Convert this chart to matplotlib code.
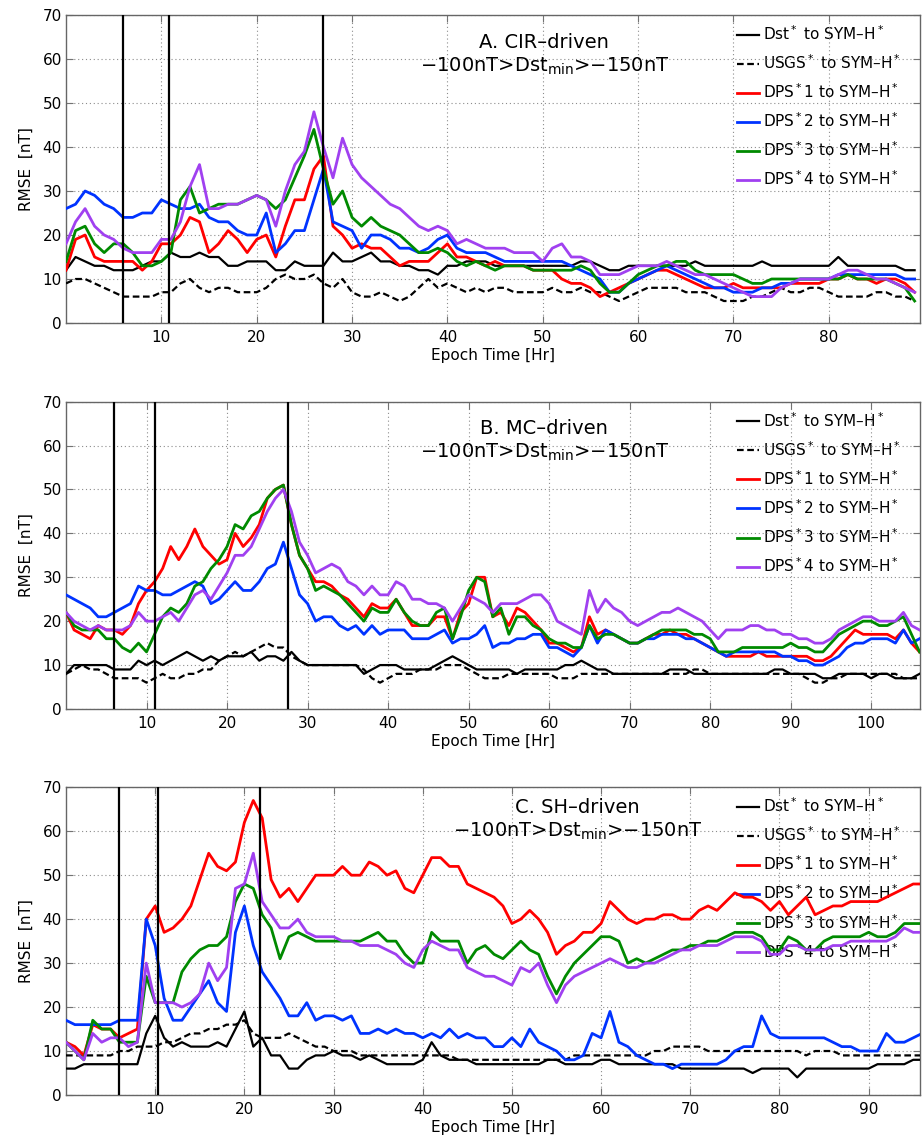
import numpy as np
import matplotlib
matplotlib.use("Agg")
import matplotlib.pyplot as plt

plt.rcParams['font.family'] = ['DejaVu Sans']
plt.rcParams['mathtext.fontset'] = 'dejavusans'

# ---- panel A: CIR-driven storms (hourly RMSE, nT) ----
a_dst = [12, 15, 14, 13, 13, 12, 12, 12, 13, 14,
         14, 16, 15, 15, 16, 15, 15, 13, 13, 14,
         14, 14, 12, 12, 14, 13, 13, 13, 16, 14,
         14, 15, 16, 14, 14, 13, 13, 12, 12, 11,
         13, 13, 14, 14, 14, 13, 13, 13, 13, 13,
         13, 13, 13, 13, 14, 14, 13, 12, 12, 13,
         13, 13, 13, 13, 13, 13, 14, 13, 13, 13,
         13, 13, 13, 14, 13, 13, 13, 13, 13, 13,
         13, 15, 13, 13, 13, 13, 13, 13, 12, 12]
a_usgs = [9, 10, 10, 9, 8, 7, 6, 6, 6, 6,
          7, 7, 9, 10, 8, 7, 8, 8, 7, 7,
          7, 8, 10, 11, 10, 10, 11, 9, 8, 10,
          7, 6, 6, 7, 6, 5, 6, 8, 10, 8,
          9, 8, 7, 8, 7, 8, 8, 7, 7, 7,
          7, 8, 7, 7, 8, 7, 7, 6, 5, 6,
          7, 8, 8, 8, 8, 7, 7, 7, 6, 5,
          5, 5, 6, 6, 7, 8, 7, 7, 8, 8,
          7, 6, 6, 6, 6, 7, 7, 6, 6, 5]
a_dps1 = [12, 19, 20, 15, 14, 14, 14, 14, 12, 14,
          18, 18, 20, 24, 23, 16, 18, 21, 19, 16,
          19, 20, 15, 22, 28, 28, 35, 38, 22, 20,
          17, 18, 17, 17, 15, 13, 14, 14, 14, 16,
          18, 15, 15, 14, 13, 14, 13, 13, 13, 12,
          12, 12, 10, 9, 9, 8, 6, 7, 8, 9,
          10, 11, 12, 12, 11, 10, 9, 8, 8, 8,
          9, 8, 8, 8, 8, 8, 9, 9, 9, 9,
          10, 10, 11, 10, 10, 9, 10, 10, 9, 7]
a_dps2 = [26, 27, 30, 29, 27, 26, 24, 24, 25, 25,
          28, 27, 26, 26, 27, 24, 23, 23, 21, 20,
          20, 25, 16, 18, 21, 21, 28, 35, 23, 22,
          21, 17, 20, 20, 19, 17, 17, 16, 17, 19,
          20, 17, 16, 16, 16, 15, 14, 14, 14, 14,
          14, 14, 14, 13, 12, 11, 10, 7, 7, 9,
          10, 11, 12, 13, 12, 11, 10, 9, 8, 8,
          7, 7, 7, 8, 8, 9, 9, 10, 10, 10,
          10, 11, 11, 11, 11, 11, 11, 11, 10, 10]
a_dps3 = [14, 21, 22, 18, 16, 18, 18, 16, 13, 13,
          14, 16, 28, 31, 25, 26, 27, 27, 27, 28,
          29, 28, 26, 28, 33, 38, 44, 35, 27, 30,
          24, 22, 24, 22, 21, 20, 18, 16, 16, 17,
          16, 14, 13, 14, 13, 12, 13, 13, 13, 12,
          12, 12, 12, 12, 13, 12, 9, 7, 7, 9,
          11, 12, 13, 13, 14, 14, 12, 11, 11, 11,
          11, 10, 9, 9, 10, 10, 10, 10, 10, 10,
          10, 10, 11, 10, 10, 10, 10, 9, 8, 5]
a_dps4 = [18, 23, 26, 22, 20, 19, 17, 16, 16, 16,
          19, 19, 23, 31, 36, 26, 26, 27, 27, 28,
          29, 28, 22, 30, 36, 39, 48, 40, 33, 42,
          36, 33, 31, 29, 27, 26, 24, 22, 21, 22,
          21, 18, 19, 18, 17, 17, 17, 16, 16, 16,
          14, 17, 18, 15, 15, 14, 11, 11, 11, 12,
          13, 13, 13, 14, 13, 12, 11, 11, 10, 9,
          8, 7, 6, 6, 6, 8, 9, 10, 10, 10,
          10, 11, 12, 12, 11, 10, 10, 9, 8, 7]
a_events = [6.0, 10.8, 26.9]

# ---- panel B: MC-driven storms ----
b_dst = [8, 10, 10, 10, 10, 10, 9, 9, 9, 11,
         10, 11, 10, 11, 12, 13, 12, 11, 12, 11,
         12, 12, 12, 13, 11, 12, 12, 11, 13, 11,
         10, 10, 10, 10, 10, 10, 10, 8, 9, 10,
         10, 10, 9, 9, 9, 9, 10, 11, 12, 11,
         10, 9, 9, 9, 9, 9, 8, 9, 9, 9,
         9, 9, 10, 10, 11, 10, 9, 9, 8, 8,
         8, 8, 8, 8, 8, 9, 9, 9, 8, 8,
         8, 8, 8, 8, 8, 8, 8, 8, 9, 9,
         8, 8, 8, 8, 7, 7, 8, 8, 8, 8,
         7, 8, 8, 7, 7, 7, 8]
b_usgs = [8, 9, 10, 9, 9, 8, 7, 7, 7, 7,
          6, 7, 8, 7, 7, 8, 8, 9, 9, 11,
          12, 13, 12, 13, 14, 15, 14, 14, 12, 11,
          10, 10, 10, 10, 10, 10, 10, 9, 7, 6,
          7, 8, 8, 8, 9, 9, 9, 10, 10, 10,
          9, 8, 7, 7, 7, 8, 8, 8, 8, 8,
          8, 7, 7, 7, 8, 8, 8, 8, 8, 8,
          8, 8, 8, 8, 8, 8, 8, 8, 9, 9,
          8, 8, 8, 8, 8, 8, 8, 8, 8, 8,
          8, 8, 7, 6, 6, 7, 7, 8, 8, 8,
          8, 8, 8, 8, 7, 7, 7]
b_dps1 = [22, 18, 17, 16, 19, 18, 18, 17, 19, 24,
          27, 29, 32, 37, 34, 37, 41, 37, 35, 33,
          34, 40, 37, 39, 42, 48, 50, 51, 42, 35,
          32, 29, 29, 28, 26, 25, 23, 21, 24, 23,
          23, 25, 22, 19, 19, 19, 21, 21, 16, 22,
          24, 30, 30, 21, 22, 19, 23, 22, 20, 18,
          15, 15, 14, 13, 14, 21, 17, 18, 17, 16,
          15, 15, 16, 17, 17, 18, 17, 17, 16, 15,
          14, 13, 12, 12, 12, 12, 13, 12, 12, 12,
          12, 12, 12, 11, 11, 12, 14, 16, 18, 17,
          17, 17, 17, 16, 18, 15, 13]
b_dps2 = [26, 25, 24, 23, 21, 21, 22, 23, 24, 28,
          27, 27, 26, 26, 27, 28, 29, 28, 24, 25,
          27, 29, 27, 27, 29, 32, 33, 38, 32, 26,
          24, 20, 21, 21, 19, 18, 19, 17, 19, 17,
          18, 18, 18, 16, 16, 16, 17, 18, 15, 16,
          16, 17, 19, 14, 15, 15, 16, 16, 17, 17,
          14, 14, 13, 12, 14, 19, 15, 18, 17, 16,
          15, 15, 16, 16, 17, 17, 17, 16, 16, 15,
          14, 13, 12, 13, 13, 13, 13, 13, 13, 12,
          12, 11, 11, 10, 10, 11, 12, 14, 15, 15,
          16, 16, 16, 15, 18, 15, 16]
b_dps3 = [22, 19, 18, 18, 18, 16, 16, 14, 13, 15,
          13, 17, 21, 23, 22, 24, 28, 29, 32, 34,
          37, 42, 41, 44, 45, 48, 50, 51, 42, 35,
          32, 27, 28, 27, 26, 24, 22, 20, 23, 22,
          22, 25, 22, 20, 19, 19, 22, 23, 16, 21,
          27, 30, 29, 21, 23, 17, 21, 21, 19, 18,
          16, 15, 15, 14, 14, 19, 16, 17, 17, 16,
          15, 15, 16, 17, 18, 18, 18, 18, 17, 17,
          16, 13, 13, 13, 14, 14, 14, 14, 14, 14,
          15, 14, 14, 13, 13, 15, 17, 18, 19, 20,
          20, 19, 19, 20, 21, 17, 13]
b_dps4 = [22, 20, 19, 18, 19, 18, 18, 18, 19, 22,
          20, 20, 21, 22, 20, 23, 26, 27, 25, 28,
          31, 35, 35, 37, 41, 45, 48, 50, 45, 38,
          35, 31, 32, 33, 32, 29, 28, 26, 28, 26,
          26, 29, 28, 25, 25, 24, 24, 23, 20, 23,
          26, 25, 24, 22, 24, 24, 24, 25, 26, 26,
          24, 20, 19, 18, 17, 27, 22, 25, 23, 22,
          20, 19, 20, 21, 22, 22, 23, 22, 21, 20,
          18, 16, 18, 18, 18, 19, 19, 18, 18, 17,
          17, 16, 16, 15, 15, 16, 18, 19, 20, 21,
          21, 20, 20, 20, 22, 19, 18]
b_events = [6.0, 11.0, 27.6]

# ---- panel C: SH-driven storms ----
c_dst = [6, 6, 7, 7, 7, 7, 7, 7, 7, 14,
         18, 13, 11, 12, 11, 11, 11, 12, 11, 15,
         19, 11, 13, 9, 9, 6, 6, 8, 9, 9,
         10, 9, 9, 8, 9, 8, 7, 7, 7, 7,
         8, 12, 9, 8, 8, 8, 7, 7, 7, 7,
         7, 7, 7, 7, 8, 8, 7, 7, 7, 7,
         8, 8, 7, 7, 7, 7, 7, 7, 7, 6,
         6, 6, 6, 6, 6, 6, 6, 5, 6, 6,
         6, 6, 4, 6, 6, 6, 6, 6, 6, 6,
         6, 7, 7, 7, 7, 8, 8]
c_usgs = [9, 9, 9, 9, 9, 9, 10, 10, 11, 11,
          11, 12, 12, 13, 14, 14, 15, 15, 16, 16,
          17, 14, 13, 13, 13, 14, 13, 12, 11, 11,
          10, 10, 10, 9, 9, 9, 9, 9, 9, 9,
          9, 9, 9, 9, 8, 8, 8, 8, 8, 8,
          8, 8, 8, 8, 8, 8, 8, 9, 9, 9,
          9, 9, 9, 9, 9, 9, 10, 10, 11, 11,
          11, 11, 10, 10, 10, 10, 10, 10, 10, 10,
          10, 10, 10, 9, 10, 10, 10, 9, 9, 9,
          9, 9, 9, 9, 9, 9, 9]
c_dps1 = [12, 11, 9, 16, 15, 15, 13, 14, 15, 40,
          43, 37, 38, 40, 43, 49, 55, 52, 51, 53,
          62, 67, 63, 49, 45, 47, 44, 47, 50, 50,
          50, 52, 50, 50, 53, 52, 50, 51, 47, 46,
          50, 54, 54, 52, 52, 48, 47, 46, 45, 43,
          39, 40, 42, 40, 37, 32, 34, 35, 37, 37,
          39, 44, 42, 40, 39, 40, 40, 41, 41, 40,
          40, 42, 43, 42, 44, 46, 45, 45, 44, 42,
          44, 41, 43, 45, 41, 42, 43, 43, 44, 44,
          44, 44, 45, 46, 47, 48, 48]
c_dps2 = [17, 16, 16, 16, 16, 16, 17, 17, 17, 40,
          34, 22, 17, 17, 20, 23, 26, 21, 19, 37,
          43, 34, 28, 25, 22, 18, 18, 21, 17, 18,
          18, 17, 18, 14, 14, 15, 14, 15, 14, 14,
          13, 14, 13, 15, 13, 14, 13, 13, 11, 11,
          13, 11, 15, 12, 11, 10, 8, 8, 9, 14,
          13, 19, 12, 11, 9, 8, 7, 7, 6, 7,
          7, 7, 7, 7, 8, 10, 11, 11, 18, 14,
          13, 13, 13, 13, 13, 13, 12, 11, 11, 10,
          10, 10, 14, 12, 12, 13, 14]
c_dps3 = [12, 10, 8, 17, 15, 15, 12, 12, 12, 27,
          21, 21, 21, 28, 31, 33, 34, 34, 36, 44,
          48, 47, 41, 38, 31, 36, 37, 36, 35, 35,
          35, 35, 35, 35, 36, 37, 35, 35, 32, 30,
          30, 37, 35, 35, 35, 30, 33, 34, 32, 31,
          33, 35, 33, 32, 27, 23, 27, 30, 32, 34,
          36, 36, 35, 30, 31, 30, 31, 32, 33, 33,
          34, 34, 35, 35, 36, 37, 37, 37, 36, 33,
          33, 36, 35, 33, 33, 35, 36, 36, 36, 36,
          37, 36, 36, 37, 39, 39, 39]
c_dps4 = [12, 10, 8, 14, 12, 13, 13, 11, 12, 30,
          21, 21, 21, 20, 21, 23, 30, 26, 29, 47,
          48, 55, 44, 41, 38, 38, 40, 37, 36, 36,
          36, 35, 35, 34, 34, 34, 33, 32, 30, 29,
          33, 35, 34, 33, 33, 29, 28, 27, 27, 26,
          25, 29, 28, 30, 25, 21, 25, 27, 28, 29,
          30, 31, 30, 29, 29, 30, 30, 31, 32, 33,
          33, 34, 34, 34, 35, 36, 36, 36, 35, 32,
          32, 34, 34, 33, 33, 33, 34, 34, 35, 35,
          35, 35, 35, 36, 38, 37, 37]
c_events = [5.9, 10.3, 21.8]

labels = ['Dst$^*$ to SYM–H$^*$', 'USGS$^*$ to SYM–H$^*$',
          'DPS$^*$1 to SYM–H$^*$', 'DPS$^*$2 to SYM–H$^*$',
          'DPS$^*$3 to SYM–H$^*$', 'DPS$^*$4 to SYM–H$^*$']
colors = ['black', 'black', '#ff0000', '#0033ff', '#008a00', '#a040f0']

panels = [
    ('A. CIR–driven', (a_dst, a_usgs, a_dps1, a_dps2, a_dps3, a_dps4), a_events, 89.6, 0.56, 0.91, 0.834),
    ('B. MC–driven', (b_dst, b_usgs, b_dps1, b_dps2, b_dps3, b_dps4), b_events, 106.1, 0.56, 0.913, 0.835),
    ('C. SH–driven', (c_dst, c_usgs, c_dps1, c_dps2, c_dps3, c_dps4), c_events, 95.8, 0.599, 0.934, 0.856),
]
boxes = [[0.0716, 0.7179, 0.9266, 0.2690],
         [0.0716, 0.3808, 0.9266, 0.2684],
         [0.0716, 0.0437, 0.9266, 0.2687]]

fig = plt.figure(figsize=(9.22, 11.45), dpi=100)

for box, (title, series, events, xmax, tx, ty1, ty2) in zip(boxes, panels):
    ax = fig.add_axes(box)
    for i, (vals, lab, col) in enumerate(zip(series, labels, colors)):
        hrs = np.arange(len(vals))
        if i == 0:
            ax.plot(hrs, vals, color=col, lw=1.6, label=lab, zorder=3)
        elif i == 1:
            ax.plot(hrs, vals, color=col, lw=1.6, dashes=(3, 1.6), label=lab, zorder=3)
        else:
            ax.plot(hrs, vals, color=col, lw=2.0, label=lab, zorder=3)
    for ev in events:
        ax.axvline(ev, color='black', lw=1.6, zorder=4)

    ax.set_xlim(0, xmax)
    ax.set_ylim(0, 70)
    ax.set_xticks(np.arange(10, xmax, 10))
    ax.set_yticks(np.arange(0, 71, 10))
    ax.grid(True, linestyle=(0, (1, 2.5)), color='0.55', lw=0.8)
    ax.tick_params(direction='in', top=True, right=True, length=5,
                   color='0.45', labelsize=11)
    ax.tick_params(axis='x', pad=5)
    ax.tick_params(axis='y', pad=3)
    for sp in ax.spines.values():
        sp.set_color('0.4')
        sp.set_linewidth(1.0)
    ax.set_xlabel('Epoch Time [Hr]', fontsize=11, labelpad=2)
    ax.set_ylabel('RMSE  [nT]', fontsize=11, labelpad=6)

    ax.text(tx, ty1, title, transform=ax.transAxes, ha='center', va='center', fontsize=14)
    ax.text(tx, ty2, '−100nT>Dst$_\\mathregular{min}$>−150nT', transform=ax.transAxes,
            ha='center', va='center', fontsize=14)

    leg = ax.legend(loc='upper right', bbox_to_anchor=(0.985, 0.99), frameon=False,
                    fontsize=11, handlelength=1.4, handletextpad=0.3, labelspacing=0.68,
                    borderaxespad=0.0)
    leg.set_zorder(1)

fig.savefig('out.png', dpi=100)
